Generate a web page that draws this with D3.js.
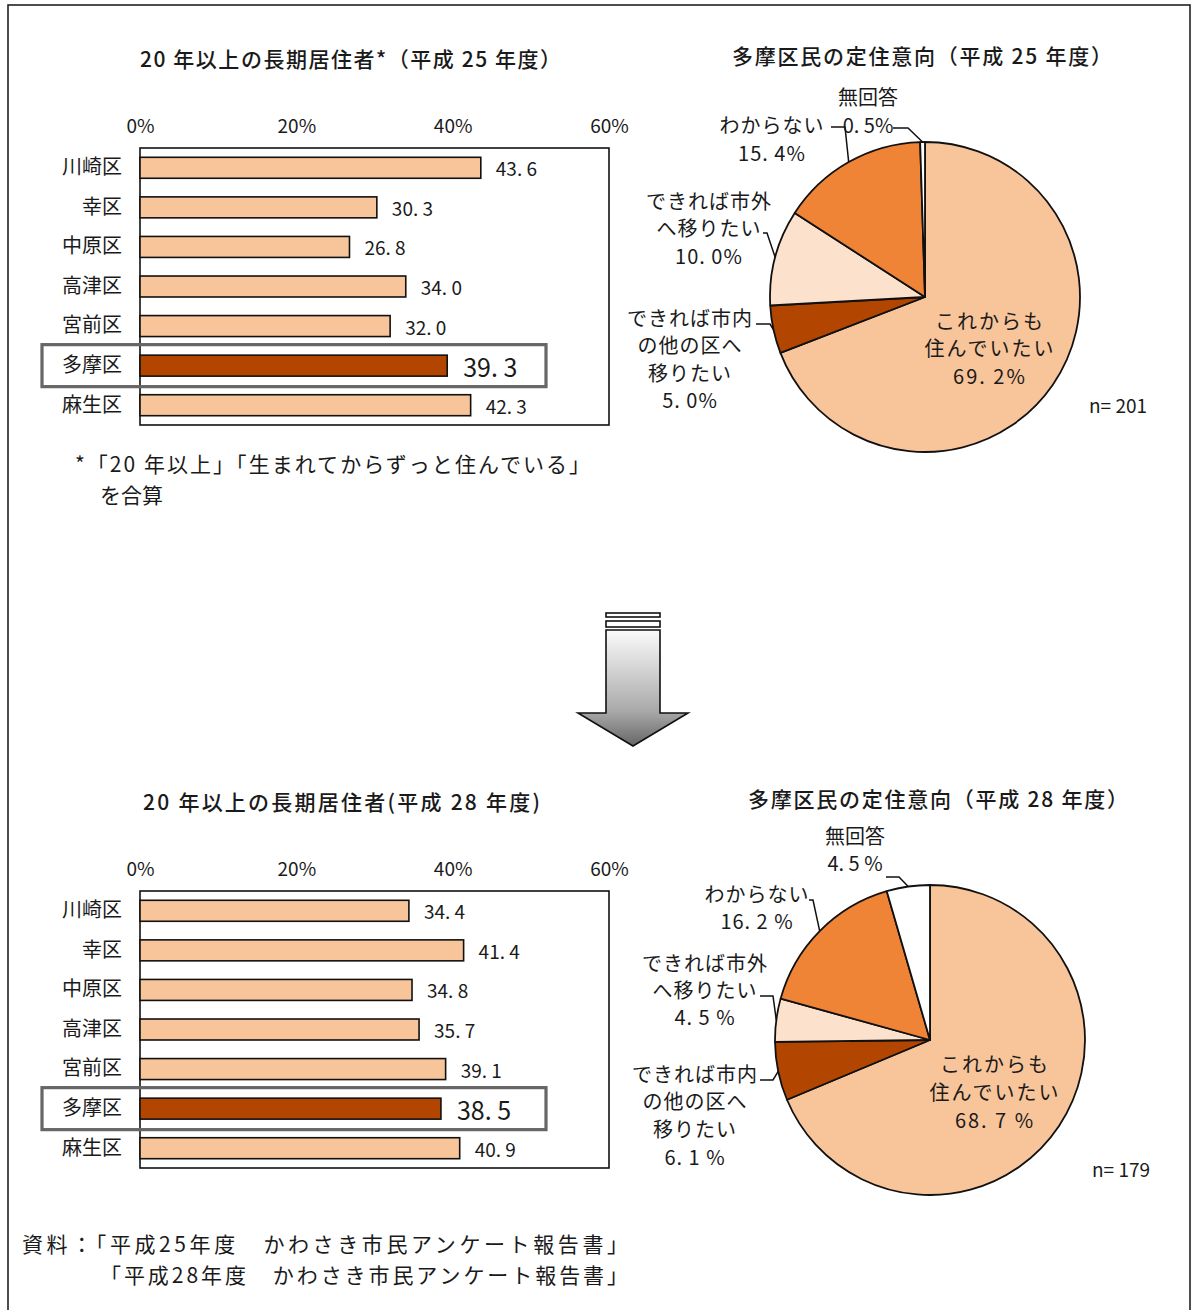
<!DOCTYPE html>
<html lang="ja">
<head>
<meta charset="utf-8">
<script src="https://cdn.jsdelivr.net/npm/d3@7"></script>
<style>
  html, body { margin: 0; padding: 0; background: #fff; }
  svg text { font-family: "Noto Sans CJK JP", "Noto Sans", sans-serif; fill: #1a1a1a; }
</style>
</head>
<body>
<svg id="page" width="1192" height="1310"></svg>
<script>
// ---- data ----
const districts   = ["川崎区", "幸区", "中原区", "高津区", "宮前区", "多摩区", "麻生区"];
const longTermH25 = [43.6, 30.3, 26.8, 34.0, 32.0, 39.3, 42.3];
const longTermH28 = [34.4, 41.4, 34.8, 35.7, 39.1, 38.5, 40.9];
const axisTicks   = [0, 20, 40, 60];
const focusDistrict = "多摩区";

const intentKeys  = ["stay", "otherWard", "outside", "unsure", "noAnswer"];
const intentNames = ["これからも住んでいたい", "できれば市内の他の区へ移りたい", "できれば市外へ移りたい", "わからない", "無回答"];
const intentH25   = [69.2, 5.0, 10.0, 15.4, 0.5];
const intentH28   = [68.7, 6.1, 4.5, 16.2, 4.5];
const sampleH25   = 201;
const sampleH28   = 179;

// ---- styles ----
const barFill   = "#F8C49A";
const focusFill = "#B24500";
const sliceFill = { stay: "#F8C49A", otherWard: "#B24500", outside: "#FCE1CD", unsure: "#EF8437", noAnswer: "#FFFFFF" };

const svg = d3.select("#page");
const fmt = v => d3.format(".1f")(v).replace(".", ". ");

// outer frame
svg.append("rect").attr("x", 8).attr("y", 5).attr("width", 1182).attr("height", 1330)
  .attr("fill", "none").attr("stroke", "#222").attr("stroke-width", 1.6);

function title(text, x0, x1, cy) {
  svg.append("text").attr("x", x0).attr("y", cy).attr("dominant-baseline", "central")
    .attr("font-size", 21).attr("font-weight", 500)
    .attr("textLength", x1 - x0).attr("lengthAdjust", "spacing").text(text);
}

// multi-line note drawn as one text element
function note(lines, size) {
  const t = svg.append("text").attr("font-size", size).attr("dominant-baseline", "central");
  lines.forEach(l => {
    const s = t.append("tspan").attr("x", l.x).attr("y", l.y).text(l.text);
    if (l.len) s.attr("textLength", l.len).attr("lengthAdjust", "spacing");
  });
}

// ---- horizontal bar chart ----
function barChart(values, top, titleText, titleX0, titleX1) {
  const g = svg.append("g");
  const x = d3.scaleLinear().domain([0, 60]).range([140, 609]);
  const y = d3.scaleBand().domain(districts).range([top, top + 277])
    .paddingInner(0.47).paddingOuter(0.235);

  title(titleText, titleX0, titleX1, top - 90);

  // plot frame
  g.append("rect").attr("x", x(0)).attr("y", top).attr("width", x(60) - x(0)).attr("height", 277)
    .attr("fill", "none").attr("stroke", "#111").attr("stroke-width", 1.6);

  // top axis with percent labels
  const ax = g.append("g").attr("transform", `translate(0,${top})`)
    .call(d3.axisTop(x).tickValues(axisTicks).tickSize(0).tickPadding(15).tickFormat(d => d + "%"));
  ax.select(".domain").remove();
  ax.selectAll("text").attr("font-size", 19).attr("font-family", "\"Noto Sans CJK JP\", sans-serif").attr("fill", "#1a1a1a");

  // district labels
  const ay = g.append("g").attr("transform", `translate(${x(0)},0)`)
    .call(d3.axisLeft(y).tickSize(0).tickPadding(18));
  ay.select(".domain").remove();
  ay.selectAll("text").attr("font-size", 20).attr("font-family", "\"Noto Sans CJK JP\", sans-serif").attr("fill", "#1a1a1a");

  const rows = districts.map((d, i) => ({ d, v: values[i] }));

  // highlight box around the focus district
  const fy = y(focusDistrict) + y.bandwidth() / 2;
  g.append("rect").attr("x", 42).attr("y", fy - 21).attr("width", 504).attr("height", 42)
    .attr("fill", "none").attr("stroke", "#666").attr("stroke-width", 3.2);

  g.selectAll("rect.bar").data(rows).join("rect").attr("class", "bar")
    .attr("x", x(0)).attr("y", r => y(r.d))
    .attr("width", r => x(r.v) - x(0)).attr("height", y.bandwidth())
    .attr("fill", r => r.d === focusDistrict ? focusFill : barFill)
    .attr("stroke", "#111").attr("stroke-width", 1.6);

  g.selectAll("text.val").data(rows).join("text").attr("class", "val")
    .attr("x", r => x(r.v) + (r.d === focusDistrict ? 16 : 15))
    .attr("y", r => y(r.d) + y.bandwidth() / 2)
    .attr("dominant-baseline", "central")
    .attr("font-size", r => r.d === focusDistrict ? 25 : 19)
    .text(r => fmt(r.v));
}

barChart(longTermH25, 148, "20 年以上の長期居住者*（平成 25 年度）", 140, 561);
barChart(longTermH28, 891, "20 年以上の長期居住者(平成 28 年度)", 143, 540);

// footnote
note([
  { x: 75, y: 463, text: "*「20 年以上」「生まれてからずっと住んでいる」", len: 515 },
  { x: 100, y: 494, text: "を合算" }
], 21);

// ---- pie charts ----
function pieChart(values, cx, cy, r, titleText, titleX0, titleX1, pctSuffix, labels, n, nPos) {
  const g = svg.append("g");
  title(titleText, titleX0, titleX1, cy - 242);

  const slices = intentKeys.map((k, i) => ({ k, name: intentNames[i], v: values[i] }));
  const pie = d3.pie().value(d => d.v).sort(null).startAngle(0).endAngle(2 * Math.PI);
  const arcs = pie(slices);
  const arc = d3.arc().innerRadius(0).outerRadius(r);

  g.append("g").attr("transform", `translate(${cx},${cy})`)
    .selectAll("path").data(arcs).join("path")
    .attr("d", arc).attr("fill", a => sliceFill[a.data.k])
    .attr("stroke", "#111").attr("stroke-width", 1.8).attr("stroke-linejoin", "round");

  arcs.forEach(a => {
    const lab = labels[a.data.k];
    const lines = lab.lines.concat([fmt(a.data.v) + pctSuffix]);
    lines.forEach((t, i) => {
      g.append("text").attr("x", lab.x).attr("y", lab.y + i * lab.gap)
        .attr("text-anchor", "middle").attr("dominant-baseline", "central")
        .attr("font-size", 20).attr("letter-spacing", lab.ls || 0).text(t);
    });
    if (lab.leader) {
      const mid = (a.startAngle + a.endAngle) / 2;
      const px = cx + r * Math.sin(mid), py = cy - r * Math.cos(mid);
      g.append("polyline")
        .attr("points", lab.leader.map(p => p.join(",")).concat([[px, py].join(",")]).join(" "))
        .attr("fill", "none").attr("stroke", "#111").attr("stroke-width", 1.5);
    }
  });

  g.append("text").attr("x", nPos[0]).attr("y", nPos[1]).attr("text-anchor", "middle")
    .attr("dominant-baseline", "central").attr("font-size", 19).text("n= " + n);
}

pieChart(intentH25, 925, 297, 155, "多摩区民の定住意向（平成 25 年度）", 732, 1112, "%", {
  stay:      { x: 990, y: 320, gap: 27.5, lines: ["これからも", "住んでいたい"], ls: 2 },
  otherWard: { x: 690, y: 317, gap: 27.5, lines: ["できれば市内", "の他の区へ", "移りたい"], ls: 1,
               leader: [[756, 324], [770, 324]] },
  outside:   { x: 709, y: 200, gap: 27.5, lines: ["できれば市外", "へ移りたい"], ls: 1,
               leader: [[763, 233], [767, 233]] },
  unsure:    { x: 772, y: 124, gap: 28, lines: ["わからない"], ls: 1,
               leader: [[831, 127], [845, 127]] },
  noAnswer:  { x: 868, y: 96, gap: 28, lines: ["無回答"],
               leader: [[893, 128], [908, 128]] }
}, sampleH25, [1118, 404]);

pieChart(intentH28, 930, 1040, 155, "多摩区民の定住意向（平成 28 年度）", 748, 1128, " %", {
  stay:      { x: 995, y: 1063, gap: 28, lines: ["これからも", "住んでいたい"], ls: 2 },
  otherWard: { x: 695, y: 1073, gap: 27.7, lines: ["できれば市内", "の他の区へ", "移りたい"], ls: 1,
               leader: [[760, 1080], [773, 1080]] },
  outside:   { x: 705, y: 962, gap: 27, lines: ["できれば市外", "へ移りたい"], ls: 1,
               leader: [[760, 996], [773, 996]] },
  unsure:    { x: 757, y: 893, gap: 27, lines: ["わからない"], ls: 1,
               leader: [[809, 900], [813, 900]] },
  noAnswer:  { x: 855, y: 835, gap: 27, lines: ["無回答"],
               leader: [[886, 877], [899, 877]] }
}, sampleH28, [1121, 1168]);

// ---- down arrow between the two periods ----
const defs = svg.append("defs");
const grad = defs.append("linearGradient").attr("id", "arrowShade")
  .attr("gradientUnits", "userSpaceOnUse").attr("x1", 0).attr("y1", 630).attr("x2", 0).attr("y2", 746);
grad.append("stop").attr("offset", 0).attr("stop-color", "#fbfbfb");
grad.append("stop").attr("offset", 0.7).attr("stop-color", "#a9a9a9");
grad.append("stop").attr("offset", 1).attr("stop-color", "#666");

const arrow = svg.append("g").attr("stroke", "#111").attr("stroke-width", 1.6);
arrow.append("rect").attr("x", 606).attr("y", 613).attr("width", 54).attr("height", 4).attr("fill", "#fff");
arrow.append("rect").attr("x", 606).attr("y", 621).attr("width", 54).attr("height", 6).attr("fill", "#fff");
arrow.append("path")
  .attr("d", "M606,630 L660,630 L660,713 L688,713 L633,746 L578,713 L606,713 Z")
  .attr("fill", "url(#arrowShade)").attr("stroke-linejoin", "miter");

// source note
note([
  { x: 22, y: 1243, text: "資料：「平成25年度　かわさき市民アンケート報告書」", len: 606 },
  { x: 100, y: 1274, text: "「平成28年度　かわさき市民アンケート報告書」", len: 528 }
], 21);
</script>
</body>
</html>
